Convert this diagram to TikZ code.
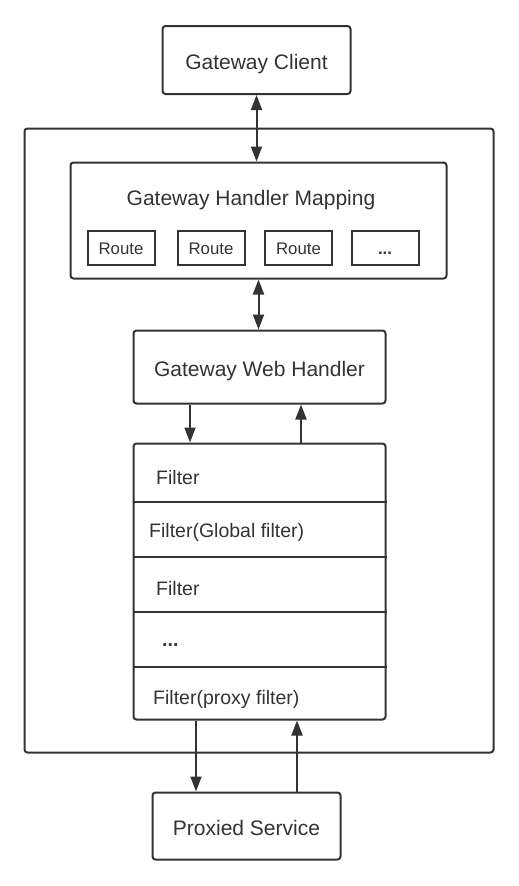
\documentclass[tikz,border=0pt]{standalone}
\usepackage{fontspec}
\setmainfont{Liberation Sans}
\usepackage{xcolor}
\usetikzlibrary{arrows.meta,positioning}
\definecolor{linegray}{HTML}{333333}

\begin{document}
\begin{tikzpicture}[x=1pt, y=-1pt,
        box/.style={rectangle, rounded corners=3pt, draw=linegray, line width=2pt, align=center, text height=19pt, text depth=0pt, font=\fontsize{21}{24}\selectfont, text=linegray},
        routebox/.style={rectangle, draw=linegray, line width=2pt, minimum width=67pt, minimum height=34pt, text height=14pt, text depth=0pt, font=\fontsize{16.8}{19}\selectfont, text=linegray},
        filtertext/.style={anchor=west, font=\fontsize{19.5}{22}\selectfont, text=linegray, inner sep=0pt, text depth=0pt},
        divider/.style={draw=linegray, line width=1.6pt},
        arrow/.style={-{Triangle[length=15pt,width=11pt]}, draw=linegray, fill=linegray, line width=2pt},
        biarrow/.style={{Triangle[length=15pt,width=11pt]}-{Triangle[length=15pt,width=11pt]}, draw=linegray, fill=linegray, line width=2pt}
    ]
        \useasboundingbox (0,0) rectangle (519,886);

        % Boxes
        \node[box, minimum width=188pt, minimum height=68pt] (client) at (256.5,60) {Gateway Client};

        \node[box, minimum width=469pt, minimum height=624pt] (gateway) at (259,440.5) {};

        \node[box, minimum width=376pt, minimum height=116pt] (mapping) at (258.5,220.5) {};
        \node[font=\fontsize{21}{24}\selectfont, text=linegray, text height=19pt, text depth=0pt] (mappingtitle) at (251,196) {Gateway Handler Mapping};

        \node[routebox] (route1) at (121,247.5) {Route};
        \node[routebox] (route2) at (211,247.5) {Route};
        \node[routebox] (route3) at (298.5,247.5) {Route};
        \node[routebox] (route4) at (385,247.5) {\textbf{...}};

        \node[box, minimum width=252pt, minimum height=73pt] (handler) at (259.5,367) {Gateway Web Handler};

        \node[box, minimum width=252pt, minimum height=276pt] (filters) at (259.5,581.5) {};
        \draw[divider] (filters.west |- 0,502) -- (filters.east |- 0,502);
        \draw[divider] (filters.west |- 0,557) -- (filters.east |- 0,557);
        \draw[divider] (filters.west |- 0,612) -- (filters.east |- 0,612);
        \draw[divider] (filters.west |- 0,667) -- (filters.east |- 0,667);

        \node[filtertext] (filter1) at (156,477) {Filter};
        \node[filtertext] (filter2) at (149,530) {Filter(Global filter)};
        \node[filtertext] (filter3) at (156,588) {Filter};
        \node[filtertext] (filter4) at (162,645) {\textbf{...}};
        \node[filtertext] (filter5) at (153,697) {Filter(proxy filter)};

        \node[box, minimum width=188pt, minimum height=67pt] (proxied) at (246.5,826) {Proxied Service};

        % Arrows
        \draw[biarrow] (client.south) -- (client.south |- mapping.north);
        \draw[biarrow] (mapping.south) -- (mapping.south |- handler.north);
        \draw[arrow] ([xshift=-69.5pt]handler.south) -- ([xshift=-69.5pt]filters.north);
        \draw[arrow] ([xshift=41.5pt]filters.north) -- ([xshift=41.5pt]handler.south);
        \draw[arrow] ([xshift=-63.5pt]filters.south) -- ([xshift=-63.5pt]filters.south |- proxied.north);
        \draw[arrow] ([xshift=37.5pt]filters.south |- proxied.north) -- ([xshift=37.5pt]filters.south);
    \end{tikzpicture}
\end{document}
